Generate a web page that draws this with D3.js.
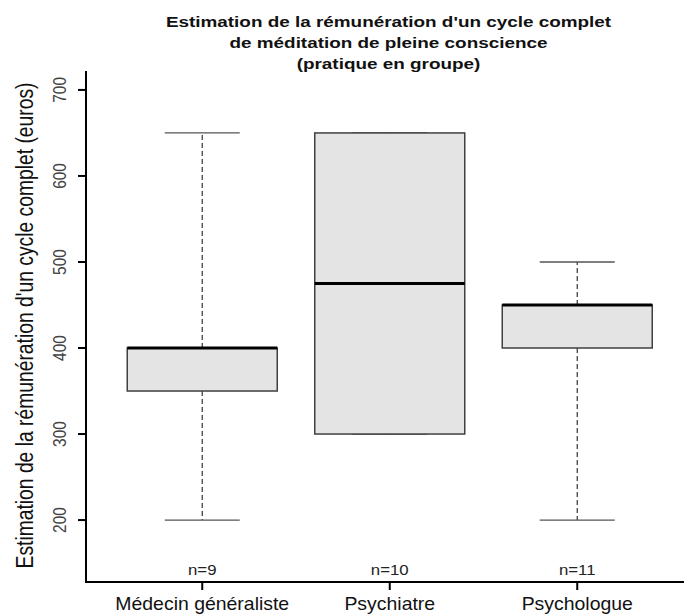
<!DOCTYPE html>
<html>
<head>
<meta charset="utf-8">
<script src="https://cdn.jsdelivr.net/npm/d3@7"></script>
<style>
  body { margin: 0; background: #fff; }
  text { font-family: "Liberation Sans", Arial, sans-serif; }
</style>
</head>
<body>
<script>
// Stage
let width = 684;
let height = 615;

let svg = d3.select("body")
            .append("svg")
            .attr("width", width)
            .attr("height", height);

// Data
const categories = ["Médecin généraliste", "Psychiatre", "Psychologue"];
const counts = [9, 10, 11];
const whisker_low = [200, 300, 200];
const q1 = [350, 300, 400];
const medians = [400, 475, 450];
const q3 = [400, 650, 450];
const whisker_high = [650, 650, 500];
const y_ticks = [200, 300, 400, 500, 600, 700];

const title_lines = [
  "Estimation de la rémunération d'un cycle complet",
  "de méditation de pleine conscience",
  "(pratique en groupe)"
];
const y_title = "Estimation de la rémunération d'un cycle complet (euros)";

// Colours
let box_fill = "#e4e4e4";
let box_stroke = "#404040";
let whisker_color = "#333333";
let staple_color = "#555555";
let axis_color = "#000000";

// the original picture is a bit stretched sideways
let stretch = 1.2;

// Plot region
const plot = {left: 86, top: 71, bottom: 582, right: 693.5};

// x: positions 1..n, R style range 0.5..n+0.5 extended 4%
const n = categories.length;
const xpad = n * 0.04;
const x = d3.scaleLinear()
  .domain([0.5 - xpad, n + 0.5 + xpad])
  .range([plot.left, plot.right]);

// y: ylim 150..700 extended 4%
const ypad = (700 - 150) * 0.04;
const y = d3.scaleLinear()
  .domain([150 - ypad, 700 + ypad])
  .range([plot.bottom, plot.top]);

const boxes = categories.map((c, i) => ({
  cat: c, pos: i + 1, n: counts[i],
  lo: whisker_low[i], q1: q1[i], med: medians[i], q3: q3[i], hi: whisker_high[i]
}));

const boxwex = 0.8;
const half = boxwex / 2;

let g = svg.append("g").attr("id", "boxes");

// whiskers (dashed)
g.selectAll(".whisker-up")
  .data(boxes)
  .enter().append("line")
  .attr("x1", d => x(d.pos)).attr("x2", d => x(d.pos))
  .attr("y1", d => y(d.q3)).attr("y2", d => y(d.hi))
  .attr("stroke", whisker_color)
  .attr("stroke-width", 1.2)
  .attr("stroke-dasharray", "5,3");

g.selectAll(".whisker-down")
  .data(boxes)
  .enter().append("line")
  .attr("x1", d => x(d.pos)).attr("x2", d => x(d.pos))
  .attr("y1", d => y(d.q1)).attr("y2", d => y(d.lo))
  .attr("stroke", whisker_color)
  .attr("stroke-width", 1.2)
  .attr("stroke-dasharray", "5,3");

// staples
["hi", "lo"].forEach(k => {
  g.selectAll(".staple-" + k)
    .data(boxes)
    .enter().append("line")
    .attr("x1", d => x(d.pos - half / 2)).attr("x2", d => x(d.pos + half / 2))
    .attr("y1", d => y(d[k])).attr("y2", d => y(d[k]))
    .attr("stroke", staple_color)
    .attr("stroke-width", 1.3);
});

// boxes
g.selectAll(".box")
  .data(boxes)
  .enter().append("rect")
  .attr("x", d => x(d.pos - half))
  .attr("y", d => y(d.q3))
  .attr("width", d => x(d.pos + half) - x(d.pos - half))
  .attr("height", d => y(d.q1) - y(d.q3))
  .attr("fill", box_fill)
  .attr("stroke", box_stroke)
  .attr("stroke-width", 1.5);

// medians
g.selectAll(".median")
  .data(boxes)
  .enter().append("line")
  .attr("x1", d => x(d.pos - half)).attr("x2", d => x(d.pos + half))
  .attr("y1", d => y(d.med)).attr("y2", d => y(d.med))
  .attr("stroke", "#000")
  .attr("stroke-width", 3);

// n labels
g.selectAll(".nlab")
  .data(boxes)
  .enter().append("text")
  .attr("transform", d => `translate(${x(d.pos)},${plot.bottom - 7.5}) scale(${stretch},1)`)
  .attr("text-anchor", "middle")
  .attr("font-size", 14)
  .attr("fill", "#222")
  .text(d => "n=" + d.n);

// axes (L shaped)
svg.append("line")
  .attr("x1", plot.left).attr("x2", plot.left)
  .attr("y1", plot.top).attr("y2", plot.bottom)
  .attr("stroke", axis_color).attr("stroke-width", 2);
svg.append("line")
  .attr("x1", plot.left - 1).attr("x2", width)
  .attr("y1", plot.bottom).attr("y2", plot.bottom)
  .attr("stroke", axis_color).attr("stroke-width", 2);

// y ticks
let yax = svg.append("g").attr("id", "yaxis");
yax.selectAll(".ytick")
  .data(y_ticks)
  .enter().append("line")
  .attr("x1", plot.left - 8).attr("x2", plot.left)
  .attr("y1", d => y(d)).attr("y2", d => y(d))
  .attr("stroke", axis_color).attr("stroke-width", 2);
yax.selectAll(".ylab")
  .data(y_ticks)
  .enter().append("text")
  .attr("transform", d => `translate(66,${y(d)}) rotate(-90) scale(1,${stretch})`)
  .attr("text-anchor", "middle")
  .attr("font-size", 15.5)
  .attr("fill", "#444")
  .text(d => d);

// x ticks
let xax = svg.append("g").attr("id", "xaxis");
xax.selectAll(".xtick")
  .data(boxes)
  .enter().append("line")
  .attr("x1", d => x(d.pos)).attr("x2", d => x(d.pos))
  .attr("y1", plot.bottom).attr("y2", plot.bottom + 8)
  .attr("stroke", axis_color).attr("stroke-width", 2);
xax.selectAll(".xlab")
  .data(boxes)
  .enter().append("text")
  .attr("transform", d => `translate(${x(d.pos)},610) scale(1.08,1)`)
  .attr("text-anchor", "middle")
  .attr("font-size", 18)
  .attr("fill", "#111")
  .text(d => d.cat);

// y title
svg.append("text")
  .attr("transform", `translate(33,${(plot.top + plot.bottom) / 2 - 1}) rotate(-90) scale(1,${stretch})`)
  .attr("text-anchor", "middle")
  .attr("font-size", 19.3)
  .attr("fill", "#111")
  .text(y_title);

// title
svg.append("g").selectAll("text")
  .data(title_lines)
  .enter().append("text")
  .attr("transform", (d, i) => `translate(388.5,${27 + i * 21}) scale(1.22,1)`)
  .attr("text-anchor", "middle")
  .attr("font-size", 15.5)
  .attr("font-weight", "bold")
  .attr("fill", "#111")
  .text(d => d);
</script>
</body>
</html>
